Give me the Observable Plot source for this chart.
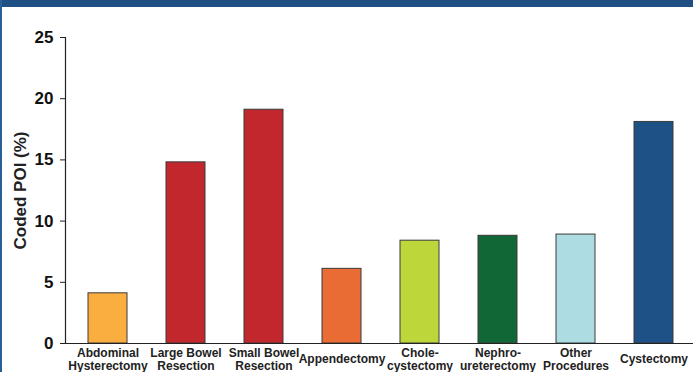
<!DOCTYPE html>
<html>
<head>
<meta charset="utf-8">
<script src="https://cdn.jsdelivr.net/npm/d3@7"></script>
<script src="https://cdn.jsdelivr.net/npm/@observablehq/plot@0.6"></script>
<style>
  html, body { margin: 0; padding: 0; background: #fff; overflow: hidden; }
  #wrap { position: relative; width: 693px; height: 372px; overflow: hidden; font-family: "Liberation Sans", Arial, sans-serif; }
  #band { position: absolute; left: 0; top: 0; width: 693px; height: 7px; background: #1F5083; }
  #lborder { position: absolute; left: 0; top: 0; width: 2px; height: 372px; background: #2A5F95; }
  #chart { position: absolute; left: 0; top: 0; }
</style>
</head>
<body>
<div id="wrap"><div id="chart"></div><div id="band"></div><div id="lborder"></div></div>
<script>
const categories = ["Abdominal\nHysterectomy", "Large Bowel\nResection", "Small Bowel\nResection", "Appendectomy", "Chole-\ncystectomy", "Nephro-\nureterectomy", "Other\nProcedures", "Cystectomy"];
const values = [4.1, 14.8, 19.1, 6.1, 8.4, 8.8, 8.9, 18.1];
const colors = ["#FBAE40", "#C1272D", "#C1272D", "#E96C34", "#BDD73B", "#116836", "#ADDCE3", "#1E5185"];
const yTicks = [0, 5, 10, 15, 20, 25];

const data = categories.map((c, i) => ({cat: c, value: values[i], color: colors[i]}));

const chart = Plot.plot({
  width: 693,
  height: 372,
  marginTop: 37,
  marginBottom: 29,
  marginLeft: 65,
  marginRight: 0,
  style: {fontFamily: "'Liberation Sans', Arial, sans-serif", background: "transparent", overflow: "visible"},
  x: {domain: categories, range: [65, 696], paddingInner: 0.5, paddingOuter: 0.26, align: 0.5, axis: null},
  y: {domain: [0, 25], axis: null},
  marks: [
    Plot.barY(data, {x: "cat", y: "value", fill: "color", stroke: "#3a3a3a", strokeWidth: 1}),
    Plot.axisY({ticks: yTicks, tickSize: 5, tickPadding: 7, fontSize: 17, fontWeight: "bold", fill: "#111", stroke: "#222",
      label: "Coded POI (%)", labelAnchor: "center", labelArrow: "none", labelOffset: 52}),
    Plot.frame({anchor: "left", stroke: "#222", strokeWidth: 1.2}),
    Plot.ruleY([0], {stroke: "#222", strokeWidth: 1.2}),
    Plot.text(data, {x: "cat", y: 0, text: "cat", dy: 15.5, lineAnchor: "middle", lineHeight: 1.1, fontSize: 12, fontWeight: "bold", fill: "#222"})
  ]
});
chart.querySelectorAll("g[aria-label='y-axis label'] text").forEach(t => { t.setAttribute("font-size", 17); t.setAttribute("font-weight", "bold"); t.setAttribute("fill", "#222"); });
document.getElementById("chart").appendChild(chart);
</script>
</body>
</html>
